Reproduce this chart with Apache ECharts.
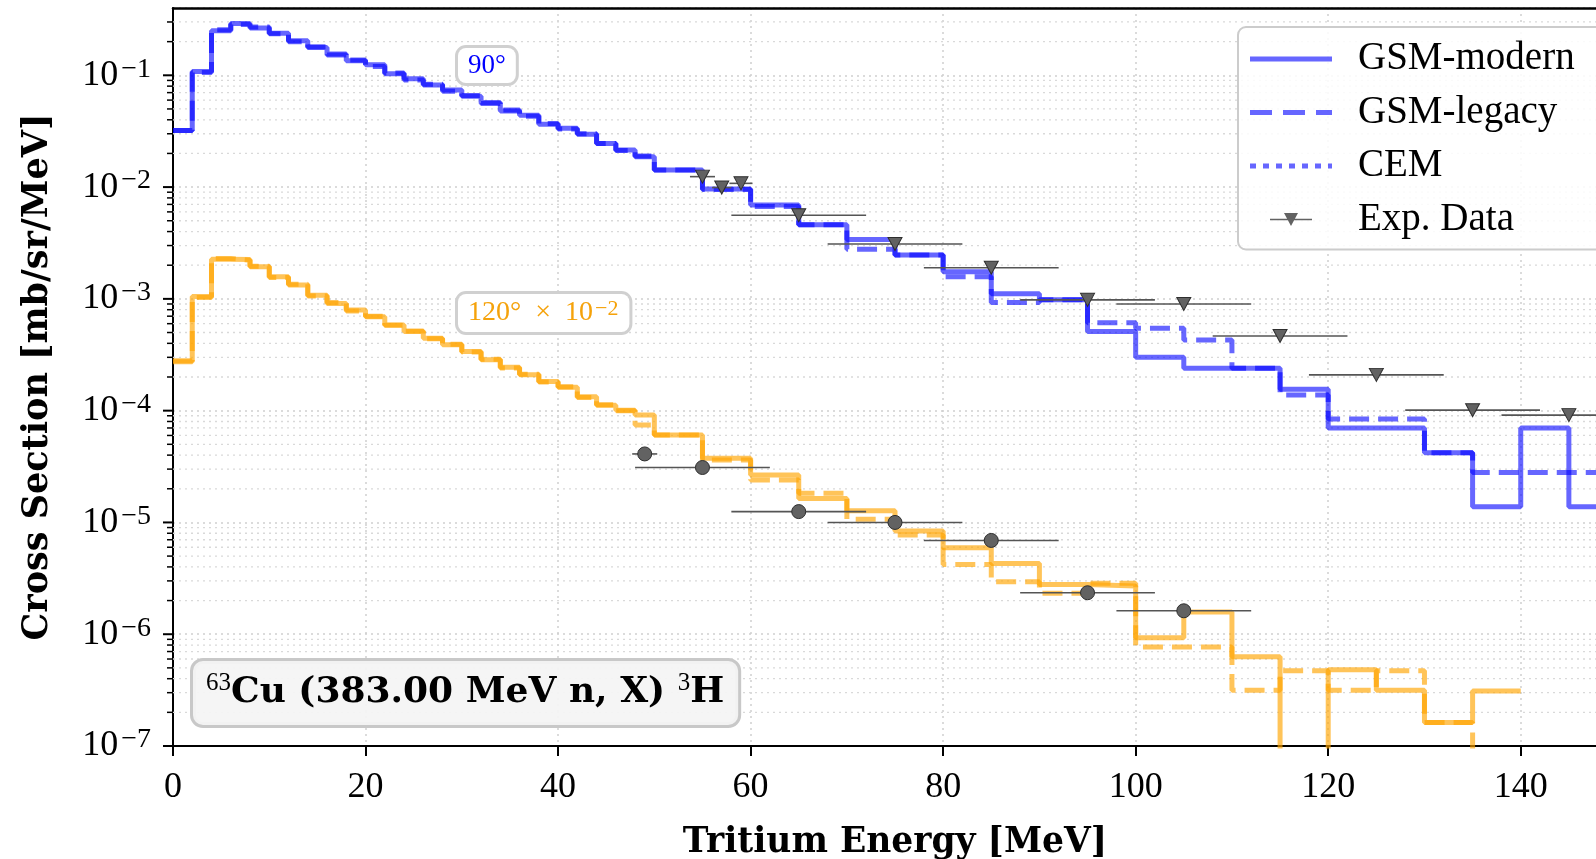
<!DOCTYPE html>
<html>
<head>
<meta charset="utf-8">
<script src="https://cdn.jsdelivr.net/npm/echarts@6/dist/echarts.min.js"></script>
<style>
html, body { margin: 0; padding: 0; background: #fff; }
#main { width: 1596px; height: 859px; }
</style>
</head>
<body>
<div id="main"></div>
<script>
"use strict";
// 能量分箱边界 (MeV)
var binEdges = [0, 2, 4, 6, 8, 10, 12, 14, 16, 18, 20, 22, 24, 26, 28, 30, 32, 34, 36, 38, 40, 42, 44, 46, 48, 50,
    55, 60, 65, 70, 75, 80, 85, 90, 95, 100, 105, 110, 115, 120, 125, 130, 135, 140, 145, 150];

// 90 度
var gsmModern90 = [0.032, 0.108, 0.25, 0.29, 0.265, 0.238, 0.204, 0.177, 0.155, 0.135, 0.124, 0.103, 0.093,
    0.082, 0.074, 0.065, 0.057, 0.048, 0.044, 0.0365, 0.0336, 0.0297, 0.0246, 0.0215, 0.0187,
    0.0142, 0.0096, 0.0069, 0.0046, 0.0034, 0.00247, 0.00175, 0.00111, 0.00098, 0.00051, 0.0003,
    0.00024, 0.00024, 0.000155, 0.00007, 0.00007, 0.000042, 0.0000138, 0.00007, 0.0000138];
var gsmLegacy90 = [0.032, 0.106, 0.255, 0.285, 0.27, 0.235, 0.2, 0.18, 0.152, 0.137, 0.12, 0.105, 0.091,
    0.083, 0.072, 0.066, 0.056, 0.049, 0.043, 0.037, 0.033, 0.03, 0.0245, 0.0212, 0.019,
    0.0142, 0.0095, 0.0067, 0.0046, 0.00278, 0.00247, 0.00158, 0.00093, 0.00098, 0.00061, 0.000546,
    0.000428, 0.00024, 0.000138, 0.000084, 0.000084, 0.000042, 0.000028, 0.000028, 0.000028];
var cem90 = [];

// 120 度 (x 10^-2)
var gsmModern120 = [0.000274, 0.00105, 0.00226, 0.00225, 0.00194, 0.00158, 0.00133, 0.00108, 0.00091, 0.000796,
    0.000693, 0.000585, 0.00051, 0.000445, 0.000388, 0.000338, 0.000285, 0.000244, 0.000209, 0.000182,
    0.000162, 0.000133, 0.000112, 0.000101, 0.0000914,
    0.0000606, 0.0000375, 0.0000266, 0.0000164, 0.0000127, 0.0000084, 0.00000595, 0.0000043, 0.00000279,
    0.0000027, 0.00000093, 0.00000158, 0.00000063, 0, 0.00000048, 0.000000315, 0.000000162, 0.00000031];
var gsmLegacy120 = [0.00028, 0.00103, 0.0023, 0.00222, 0.00196, 0.00155, 0.00135, 0.00106, 0.00093, 0.00078,
    0.0007, 0.00058, 0.000515, 0.00044, 0.000392, 0.000334, 0.000288, 0.000241, 0.000212, 0.00018,
    0.000164, 0.000131, 0.000113, 0.0001, 0.0000744,
    0.0000606, 0.0000362, 0.000024, 0.0000182, 0.0000107, 0.0000077, 0.0000042, 0.00000295, 0.00000232,
    0.00000285, 0.00000077, 0.00000077, 0.000000315, 0.00000047, 0.000000315, 0.00000047, 0.000000162, 0];
var cem120 = [];

// 实验数据
var exp90Energy = [55, 57, 59, 65, 75, 85, 95, 105, 115, 125, 135, 145];
var exp90Value = [0.0124, 0.0099, 0.0108, 0.0056, 0.0031, 0.0019, 0.00098, 0.0009, 0.000466, 0.000209, 0.000101, 0.0000912];
var exp90Err = [1.3, 1, 1.2, 7, 7, 7, 7, 7, 7, 7, 7, 7];
var exp120Energy = [49, 55, 65, 75, 85, 95, 105];
var exp120Value = [0.000041, 0.000031, 0.0000125, 0.00001, 0.0000069, 0.00000235, 0.00000162];
var exp120Err = [1.3, 7, 7, 7, 7, 7, 7];

// 坐标轴刻度
var yDecades = [-7, -6, -5, -4, -3, -2, -1];
var yMinorSteps = [2, 3, 4, 5, 6, 7, 8, 9];
var yMin = 1e-7, yMax = 0.4;

var BLUE = 'rgba(0,0,255,0.6)';
var ORANGE = 'rgba(255,165,0,0.65)';
var SERIF = '"Liberation Serif", serif';
var BOLD = '"DejaVu Serif", serif';

// 图例图标 (82 x 20)
var ICON_BOX = 'M0,0L0.01,0L0,0.01Z M82,20L81.99,20L82,19.99Z ';
function bar(x1, x2) {
    return 'M' + x1 + ',7.5L' + x2 + ',7.5L' + x2 + ',12.5L' + x1 + ',12.5Z ';
}
var ICON_SOLID = 'path://' + ICON_BOX + bar(0, 82);
var ICON_DASHED = 'path://' + ICON_BOX + bar(0, 22) + bar(33, 55) + bar(66, 82);
var ICON_DOTTED = 'path://' + ICON_BOX + bar(0, 6) + bar(13, 19) + bar(26, 32) + bar(39, 45) + bar(52, 58) + bar(65, 71) + bar(78, 82);
var ICON_EXP = 'path://' + ICON_BOX + 'M20,9.3L62,9.3L62,10.8L20,10.8Z M34,3.5L48,3.5L41,16.5Z';

function stepData(vals) {
    var out = [];
    for (var i = 0; i < vals.length; i++) {
        out.push([binEdges[i], vals[i] > 0 ? vals[i] : 1e-12]);
    }
    if (vals.length) {
        var last = vals[vals.length - 1];
        out.push([binEdges[vals.length], last > 0 ? last : 1e-12]);
    }
    return out;
}

function expData(es, vs, ds) {
    return es.map(function(e, i) { return [e, vs[i], ds[i]]; });
}

// y 轴刻度 (主/次) 数据
var yTickData = [];
yDecades.forEach(function(d) {
    yTickData.push([0, Math.pow(10, d), 1]);
    yMinorSteps.forEach(function(m) {
        var v = m * Math.pow(10, d);
        if (v < yMax) yTickData.push([0, v, 0]);
    });
});

function yTickItem(params, api) {
    var v = api.value(1), major = api.value(2);
    var cs = params.coordSys;
    var y = api.coord([0, v])[1];
    var len = major ? 10 : 6;
    var children = [{
        type: 'line',
        shape: { x1: cs.x - len, y1: y, x2: cs.x, y2: y },
        style: { stroke: '#000', lineWidth: major ? 2 : 1.5 }
    }];
    if (!major) {
        children.push({
            type: 'line',
            shape: { x1: cs.x, y1: y, x2: cs.x + cs.width, y2: y },
            style: { stroke: '#d9d9d9', lineWidth: 1.3, lineDash: [2, 4] }
        });
    }
    return { type: 'group', children: children };
}

function errorBarItem(params, api) {
    var e = api.value(0), v = api.value(1), d = api.value(2);
    var a = api.coord([e - d, v]), b = api.coord([e + d, v]);
    return {
        type: 'line',
        shape: { x1: a[0], y1: a[1], x2: b[0], y2: b[1] },
        style: { stroke: '#555', lineWidth: 1.6 }
    };
}

function lineSeries(name, vals, color, type) {
    return {
        name: name,
        type: 'line',
        step: 'end',
        data: stepData(vals),
        symbol: 'none',
        showSymbol: false,
        z: 3,
        lineStyle: { color: color, width: 5, type: type },
        itemStyle: { color: color }
    };
}

var myChart = echarts.init(document.getElementById('main'));
var option = {
    animation: false,
    backgroundColor: '#fff',
    textStyle: { fontFamily: SERIF },
    grid: {
        left: 173, top: 8, bottom: 113, right: -21,
        outerBoundsMode: 'none'
    },
    legend: {
        orient: 'vertical',
        left: 1238, top: 27,
        itemWidth: 82, itemHeight: 20, itemGap: 13.5,
        padding: [12, 40, 10, 12],
        backgroundColor: 'rgba(255,255,255,0.85)',
        borderColor: '#cccccc', borderWidth: 2, borderRadius: 8,
        textStyle: { fontFamily: SERIF, fontSize: 39, color: '#000', lineHeight: 40, padding: [0, 0, 0, 21] },
        data: [
            { name: 'GSM-modern', icon: ICON_SOLID, itemStyle: { borderWidth: 0 } },
            { name: 'GSM-legacy', icon: ICON_DASHED, itemStyle: { borderWidth: 0 } },
            { name: 'CEM', icon: ICON_DOTTED, itemStyle: { borderWidth: 0 } },
            { name: 'Exp. Data', icon: ICON_EXP, itemStyle: { borderWidth: 0 } }
        ]
    },
    xAxis: [{
        type: 'value',
        min: 0, max: 150, interval: 20,
        name: 'Tritium Energy [MeV]',
        nameLocation: 'middle',
        nameGap: 80,
        nameTextStyle: { fontFamily: BOLD, fontWeight: 'bold', fontSize: 34.5, color: '#000' },
        axisLine: { show: true, lineStyle: { color: '#000', width: 2 } },
        axisTick: { show: true, inside: false, length: 10, lineStyle: { color: '#000', width: 2 } },
        axisLabel: {
            margin: 24, fontFamily: SERIF, fontSize: 36, color: '#000',
            formatter: function(v) { return v % 20 === 0 ? String(v) : ''; }
        },
        splitLine: { show: true, lineStyle: { color: '#d0d0d0', width: 1.5, type: [2, 4] } }
    }, {
        // 顶部边框
        type: 'value', position: 'top', min: 0, max: 150, z: 6,
        axisLine: { show: true, lineStyle: { color: '#000', width: 2.5 } },
        axisTick: { show: false }, axisLabel: { show: false }, splitLine: { show: false }
    }],
    yAxis: {
        type: 'log',
        logBase: 10,
        min: yMin, max: yMax,
        name: 'Cross Section [mb/sr/MeV]',
        nameLocation: 'middle',
        nameRotate: 90,
        nameGap: 118,
        nameTextStyle: { fontFamily: BOLD, fontWeight: 'bold', fontSize: 35, color: '#000' },
        axisLine: { show: true, lineStyle: { color: '#000', width: 2 } },
        axisTick: { show: false },
        axisLabel: {
            margin: 22,
            formatter: function(v) {
                var l = Math.log10(v), n = Math.round(l);
                if (Math.abs(l - n) > 0.01) return '';
                return '{b|10}{s|\u2212' + (-n) + '}';
            },
            rich: {
                b: { fontFamily: SERIF, fontSize: 36, color: '#000', lineHeight: 40 },
                s: { fontFamily: SERIF, fontSize: 28, color: '#000', lineHeight: 27, verticalAlign: 'top', padding: [0, 0, 0, 3] }
            }
        },
        splitLine: { show: true, lineStyle: { color: '#d0d0d0', width: 1.5, type: [2, 4] } }
    },
    graphic: [
        {
            type: 'text', left: 455, top: 45, z: 50,
            style: {
                text: '90°', font: '27px "Liberation Serif"', fill: '#0000ff',
                backgroundColor: '#fff', borderColor: '#d0d0d0', borderWidth: 3, borderRadius: 8,
                padding: [4, 10, 4, 10]
            }
        },
        {
            type: 'text', left: 455, top: 291, z: 50,
            style: {
                text: '{b|120°\u2002×\u200210}{s|\u22122}',
                fill: '#f5a20a',
                rich: {
                    b: { fontFamily: SERIF, fontSize: 28, fill: '#f5a20a', lineHeight: 30 },
                    s: { fontFamily: SERIF, fontSize: 22, fill: '#f5a20a', lineHeight: 20, verticalAlign: 'top', padding: [0, 0, 0, 2] }
                },
                backgroundColor: '#fff', borderColor: '#d0d0d0', borderWidth: 3, borderRadius: 8,
                padding: [4, 11, 4, 10]
            }
        },
        {
            type: 'text', left: 190, top: 658, z: 50,
            style: {
                text: '{s|63}{b|Cu (383.00 MeV n, X) }{s|3}{b|H}',
                fill: '#000',
                rich: {
                    b: { fontFamily: BOLD, fontWeight: 'bold', fontSize: 36, fill: '#000', lineHeight: 44 },
                    s: { fontFamily: SERIF, fontSize: 25, fill: '#000', lineHeight: 30, verticalAlign: 'top' }
                },
                backgroundColor: 'rgba(244,244,244,0.95)', borderColor: '#c8c8c8', borderWidth: 3, borderRadius: 10,
                padding: [10, 14, 10, 13]
            }
        }
    ],
    series: [
        {
            name: 'yTicks', type: 'custom', renderItem: yTickItem,
            data: yTickData, encode: { x: 0, y: 1 }, clip: false, silent: true, z: 1
        },
        lineSeries('GSM-modern', gsmModern90, BLUE, 'solid'),
        lineSeries('GSM-legacy', gsmLegacy90, BLUE, [20, 9]),
        lineSeries('CEM', cem90, BLUE, [5, 8]),
        lineSeries('GSM-modern', gsmModern120, ORANGE, 'solid'),
        lineSeries('GSM-legacy', gsmLegacy120, ORANGE, [20, 9]),
        lineSeries('CEM', cem120, ORANGE, [5, 8]),
        {
            name: 'errBars90', type: 'custom', renderItem: errorBarItem,
            data: expData(exp90Energy, exp90Value, exp90Err), encode: { x: 0, y: 1 }, silent: true, z: 4
        },
        {
            name: 'errBars120', type: 'custom', renderItem: errorBarItem,
            data: expData(exp120Energy, exp120Value, exp120Err), encode: { x: 0, y: 1 }, silent: true, z: 4
        },
        {
            name: 'Exp. Data', type: 'scatter',
            data: expData(exp90Energy, exp90Value, exp90Err),
            symbol: 'triangle', symbolRotate: 180, symbolSize: [14, 13], z: 5,
            itemStyle: { color: '#626262', borderColor: '#2e2e2e', borderWidth: 1, opacity: 1 }
        },
        {
            name: 'Exp. Data', type: 'scatter',
            data: expData(exp120Energy, exp120Value, exp120Err),
            symbol: 'circle', symbolSize: 14, z: 5,
            itemStyle: { color: '#626262', borderColor: '#2e2e2e', borderWidth: 1, opacity: 1 }
        }
    ]
};
myChart.setOption(option);
</script>
</body>
</html>
